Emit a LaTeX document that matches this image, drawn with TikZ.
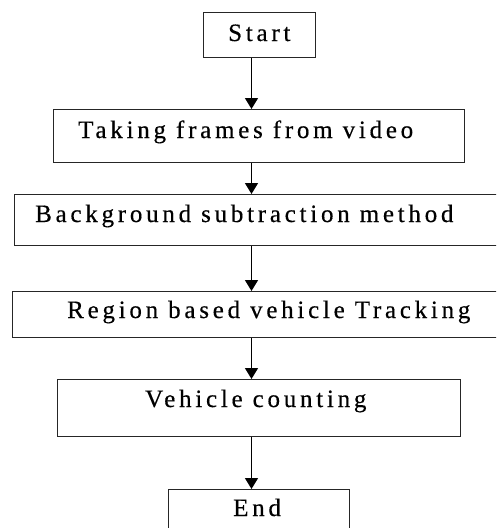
\documentclass[tikz,border=0pt]{standalone}
\usepackage{fontspec}
\setmainfont{Liberation Serif}[LetterSpace=15,FakeBold=0.4]
\usetikzlibrary{arrows.meta}
\begin{document}
\begin{tikzpicture}[x=1pt,y=-1pt,
  box/.style={draw=black!85,line width=1.4pt,anchor=north west,inner sep=0pt,fill=none},
  txt/.style={anchor=base west,inner sep=0pt,text=black,font=\fontsize{25}{29}\selectfont},
  flow/.style={line width=1.5pt,-{Triangle[width=13pt,length=11pt]}}]
\clip (0,0) rectangle (496,528);
\fill[white] (0,0) rectangle (496,528);
\coordinate (ax) at (251.5,0);
\node[box,minimum width=112pt,minimum height=45pt] (start) at (203,12) {};
\node[box,minimum width=411pt,minimum height=53pt] (b2) at (53,109) {};
\node[box,minimum width=500pt,minimum height=51pt] (b3) at (14,194) {};
\node[box,minimum width=500pt,minimum height=46pt] (b4) at (12,291) {};
\node[box,minimum width=403pt,minimum height=57pt] (b5) at (57,379) {};
\node[box,minimum width=181pt,minimum height=50pt] (end) at (168,489) {};
\node[txt] (tstart) at (228,41) {Start};
\node[txt] (t2) at (78,138) {Taking frames from video};
\node[txt] (t3) at (35,222) {Background subtraction method};
\node[txt] (t4) at (67,318) {Region based vehicle Tracking};
\node[txt] (t5) at (145,407) {Vehicle counting};
\node[txt] (tend) at (233,516) {End};
\draw[flow] (start.south -| ax) -- (b2.north -| ax);
\draw[flow] (b2.south -| ax) -- (b3.north -| ax);
\draw[flow] (b3.south -| ax) -- (b4.north -| ax);
\draw[flow] (b4.south -| ax) -- (b5.north -| ax);
\draw[flow] (b5.south -| ax) -- (end.north -| ax);
\end{tikzpicture}
\end{document}
